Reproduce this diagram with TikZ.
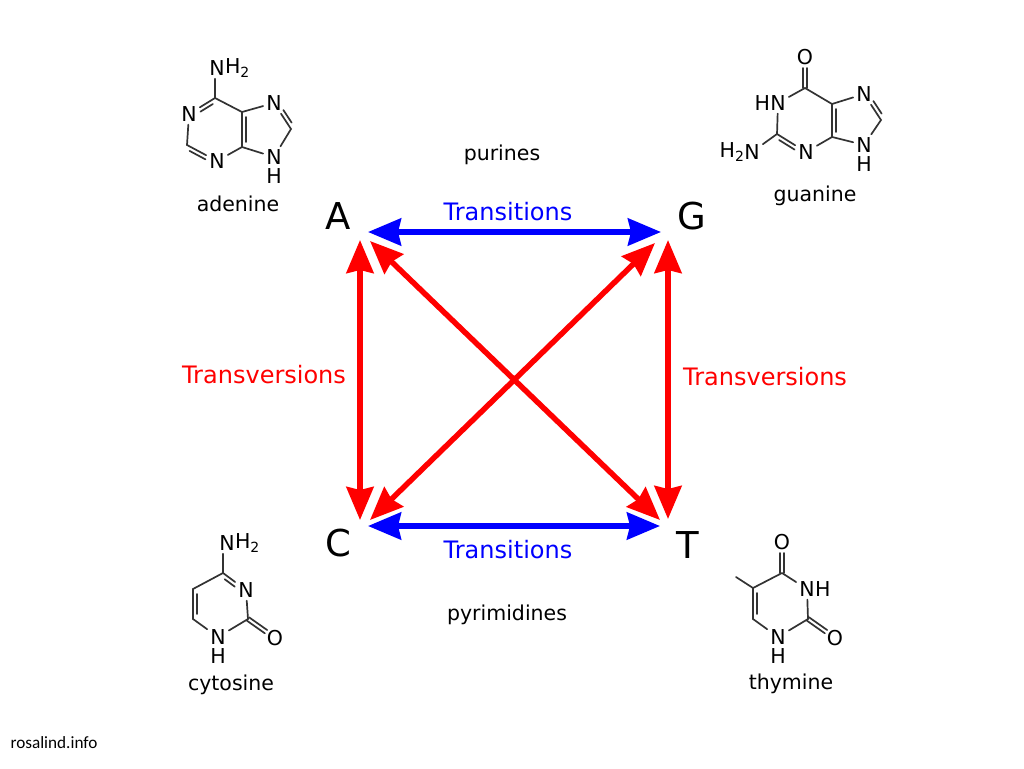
\documentclass[tikz,border=0pt]{standalone}
\usepackage{fontspec}
\usepackage{tikz}
\usetikzlibrary{arrows.meta,calc,positioning}
\setmainfont{DejaVu Sans}
\newfontfamily\carlito{Carlito}
\definecolor{trred}{RGB}{255,0,0}
\definecolor{trblue}{RGB}{0,0,255}
\newcommand{\fsize}[1]{\fontsize{#1}{#1}\selectfont}
\newcommand{\subtwo}{\raisebox{-3.5pt}{\fsize{14}2}}
\newcommand{\dbond}[4]{\draw[bond,shorten <=#3pt,shorten >=#4pt] ($(#1)!4pt!90:(#2)$) -- ($(#2)!4pt!-90:(#1)$);}
\newcommand{\cobond}[2]{
    \draw[bond,shorten >=11pt] ($(#1)!2pt!90:(#2)$) -- ($(#2)!2pt!-90:(#1)$);
    \draw[bond,shorten >=11pt] ($(#1)!2pt!-90:(#2)$) -- ($(#2)!2pt!90:(#1)$);}
\tikzset{
    bond/.style={black!80,line width=1.7pt,line cap=round},
    atom/.style={inner sep=3pt,font=\fsize{20.5}},
    basename/.style={inner sep=0pt,font=\fsize{20.5}},
    classname/.style={inner sep=0pt,font=\fsize{20.5}},
    letter/.style={inner sep=0pt,font=\fsize{37}},
    transition/.style={trblue,line width=5.5pt,{Stealth[length=33pt,width=27pt,inset=3pt]}-{Stealth[length=33pt,width=27pt,inset=3pt]}},
    transversion/.style={trred,line width=5.5pt,{Stealth[length=33pt,width=27pt,inset=3pt]}-{Stealth[length=33pt,width=27pt,inset=3pt]}},
    trlabel/.style={inner sep=0pt,font=\fsize{24}},
}
\begin{document}
\begin{tikzpicture}[x=1pt,y=-1pt]
\useasboundingbox (0,0) rectangle (1024,768);

% Corner letters
\node[letter] (A) at (338,216) {A};
\node[letter] (G) at (692,216) {G};
\node[letter] (C) at (338,543) {C};
\node[letter] (T) at (688,545) {T};

% Arrow ends
\coordinate (AtoG) at ($(A)+(30,16)$);
\coordinate (GtoA) at ($(G)+(-31,16)$);
\coordinate (CtoT) at ($(C)+(30,-17)$);
\coordinate (TtoC) at ($(T)+(-28,-19)$);
\coordinate (AtoC) at ($(A)+(22,24)$);
\coordinate (CtoA) at ($(C)+(22,-23)$);
\coordinate (GtoT) at ($(G)+(-24,24)$);
\coordinate (TtoG) at ($(T)+(-20,-26)$);
\coordinate (AtoT) at ($(A)+(32,25)$);
\coordinate (TtoA) at ($(T)+(-28,-25)$);
\coordinate (GtoC) at ($(G)+(-37,27)$);
\coordinate (CtoG) at ($(C)+(32,-23)$);

% Transitions
\draw[transition] (AtoG) -- (GtoA);
\draw[transition] (CtoT) -- (TtoC);
\node[trlabel,trblue] (topT) at (508,212) {Transitions};
\node[trlabel,trblue] (botT) at (508,550) {Transitions};

% Transversions
\draw[transversion] (AtoC) -- (CtoA);
\draw[transversion] (GtoT) -- (TtoG);
\draw[transversion] (AtoT) -- (TtoA);
\draw[transversion] (GtoC) -- (CtoG);
\node[trlabel,trred] (leftV) at (264,375) {Transversions};
\node[trlabel,trred] (rightV) at (765,377) {Transversions};

\node[classname] (purines) at (502,155) {purines};
\node[classname] (pyrimidines) at (507,615) {pyrimidines};

% Adenine
\coordinate (aC2) at (187,145);
\coordinate (aC4) at (242,147);
\coordinate (aC5) at (242,112);
\coordinate (aC6) at (215,98);
\coordinate (aC8) at (291,129);
\node[atom] (aN1) at (189,114) {N};
\node[atom] (aN3) at (217,161) {N};
\node[atom] (aN6) at (217,68) {N};
\node[atom,right=-6pt of aN6] (aH6) {H\subtwo};
\node[atom] (aN7) at (274,103) {N};
\node[atom] (aN9) at (274,157) {N};
\node[atom] (aH9) at (274,176) {H};
\draw[bond] (aC6 |- aN6.south) -- (aC6) -- (aC5) -- (aC4) -- (aN3) -- (aC2) -- (aN1) -- (aC6);
\draw[bond] (aC5) -- (aN7) -- (aC8) -- (aN9) -- (aC4);
\dbond{aC6}{aN1}{5}{11}
\dbond{aN3}{aC2}{11}{5}
\dbond{aC5}{aC4}{5}{5}
\dbond{aN7}{aC8}{11}{5}
\node[basename] (adenine) at (238,204) {adenine};

% Guanine
\coordinate (gC2) at (777,134);
\coordinate (gC4) at (832,137);
\coordinate (gC5) at (832,104);
\coordinate (gC6) at (805,88);
\coordinate (gC8) at (881,120);
\node[atom] (gO6) at (805,57) {O};
\node[atom] (gN1) at (778,103) {N};
\node[atom,left=-6pt of gN1] (gH1) {H};
\node[atom] (gN2) at (752,152) {N};
\node[atom,left=-6pt of gN2] (gH2) {H\subtwo};
\node[atom] (gN3) at (806,152) {N};
\node[atom] (gN7) at (864,94) {N};
\node[atom] (gN9) at (864,145) {N};
\node[atom] (gH9) at (864,164) {H};
\draw[bond] (gN1) -- (gC6) -- (gC5) -- (gC4) -- (gN3) -- (gC2) -- (gN1);
\draw[bond] (gC2) -- (gN2);
\draw[bond] (gC5) -- (gN7) -- (gC8) -- (gN9) -- (gC4);
\cobond{gC6}{gO6}
\dbond{gC5}{gC4}{5}{5}
\dbond{gN3}{gC2}{11}{5}
\dbond{gN7}{gC8}{11}{5}
\node[basename] (guanine) at (815,196) {guanine};

% Cytosine
\coordinate (cC2) at (248,619);
\coordinate (cC4) at (223,573);
\coordinate (cC5) at (193,589);
\coordinate (cC6) at (193,619);
\node[atom] (cN4) at (227,543) {N};
\node[atom,right=-6pt of cN4] (cH4) {H\subtwo};
\node[atom] (cN3) at (246,590) {N};
\node[atom] (cO2) at (275,638) {O};
\node[atom] (cN1) at (218,637) {N};
\node[atom] (cH1) at (218,656) {H};
\draw[bond] (cC4 |- cN4.south) -- (cC4) -- (cC5) -- (cC6) -- (cN1) -- (cC2) -- (cN3) -- (cC4);
\dbond{cN3}{cC4}{11}{5}
\dbond{cC5}{cC6}{5}{5}
\cobond{cC2}{cO2}
\node[basename] (cytosine) at (231,685) {cytosine};

% Thymine
\coordinate (tC2) at (808,619);
\coordinate (tC4) at (782,573);
\coordinate (tC5) at (753,588);
\coordinate (tC6) at (753,619);
\coordinate (tMe) at (736,577);
\node[atom] (tO4) at (782,542) {O};
\node[atom] (tN3) at (807,589) {N};
\node[atom,right=-6pt of tN3] (tH3) {H};
\node[atom] (tO2) at (835,638) {O};
\node[atom] (tN1) at (778,637) {N};
\node[atom] (tH1) at (778,656) {H};
\draw[bond] (tC4) -- (tC5) -- (tC6) -- (tN1) -- (tC2) -- (tN3) -- (tC4);
\draw[bond] (tC5) -- (tMe);
\cobond{tC4}{tO4}
\dbond{tC5}{tC6}{5}{5}
\cobond{tC2}{tO2}
\node[basename] (thymine) at (791,684) {thymine};

\node[inner sep=0pt,font=\carlito\fsize{17.2}] (site) at (54,743) {rosalind.info};
\end{tikzpicture}
\end{document}
